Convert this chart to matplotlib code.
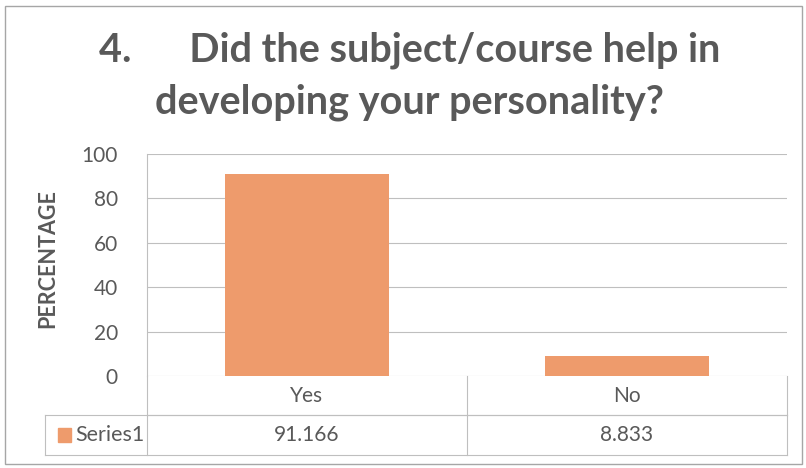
import matplotlib
matplotlib.use('Agg')
import matplotlib.pyplot as plt
from matplotlib.patches import Rectangle

# donnees
categories = ["Yes", "No"]
values = [91.166, 8.833]
value_labels = ["91.166", "8.833"]
series_name = "Series1"
yticks = [0, 20, 40, 60, 80, 100]

plt.rcParams['font.family'] = ['Lato', 'DejaVu Sans']
text_col = "#595959"
bar_col = "#EE9B6C"
line_col = "#BFBFBF"

fig = plt.figure(figsize=(8.06, 4.68), dpi=100)
ax = fig.add_axes([147 / 806, 92 / 468, 640 / 806, 222 / 468])

x = list(range(len(categories)))
ax.bar(x, values, width=0.51, color=bar_col, zorder=3)
ax.set_xlim(-0.5, len(categories) - 0.5)
ax.set_ylim(0, 100)
ax.set_yticks(yticks)
ax.set_yticklabels([str(t) for t in yticks], fontsize=15, color=text_col)
ax.tick_params(axis='y', length=0, pad=21)
ax.set_xticks([])
ax.grid(axis='y', color=line_col, linewidth=0.8, zorder=0)
for s in ['top', 'right', 'bottom']:
    ax.spines[s].set_visible(False)
ax.spines['left'].set_color(line_col)
ax.spines['left'].set_linewidth(0.8)
ax.set_ylabel("PERCENTAGE", fontsize=15.5, fontweight='bold', color=text_col)
ax.yaxis.set_label_coords(-0.138, 0.53)

# tableau de donnees sous le graphique
trans = ax.get_xaxis_transform()
r1 = -39 / 222
r2 = -79 / 222
left = -0.5 - (102 / 640) * len(categories)
right = len(categories) - 0.5
kw = dict(transform=trans, color=line_col, linewidth=0.8, clip_on=False)
ax.plot([-0.5, right], [r1, r1], **kw)
ax.plot([left, right], [r1, r1], **kw)
ax.plot([left, right], [r2, r2], **kw)
ax.plot([left, left], [r1, r2], **kw)
ax.plot([-0.5, -0.5], [0, r2], **kw)
for i in x:
    ax.plot([i + 0.5, i + 0.5], [0, r2], **kw)
    ax.text(i, r1 / 2, categories[i], transform=trans, ha='center', va='center',
            fontsize=15, color=text_col)
    ax.text(i, (r1 + r2) / 2, value_labels[i], transform=trans, ha='center',
            va='center', fontsize=15, color=text_col)

ax.add_patch(Rectangle((left + 0.04, (r1 + r2) / 2 - 0.032), 0.04, 0.064,
                       transform=trans, color=bar_col, clip_on=False))
ax.text(left + 0.095, (r1 + r2) / 2, series_name, transform=trans, ha='left',
        va='center', fontsize=15.5, color=text_col)

# titre
fig.text(0.508, 1 - 50 / 468, "4.      Did the subject/course help in", ha='center',
         va='center', fontsize=28.5, fontweight='bold', color=text_col)
fig.text(0.508, 1 - 102 / 468, "developing your personality?", ha='center',
         va='center', fontsize=28.5, fontweight='bold', color=text_col)

# cadre du graphique
fig.patches.append(Rectangle((5 / 806, 4 / 468), 797 / 806, 458 / 468,
                             transform=fig.transFigure, fill=False,
                             edgecolor="#A6A6A6", linewidth=1))

fig.savefig("out.png", dpi=100)
